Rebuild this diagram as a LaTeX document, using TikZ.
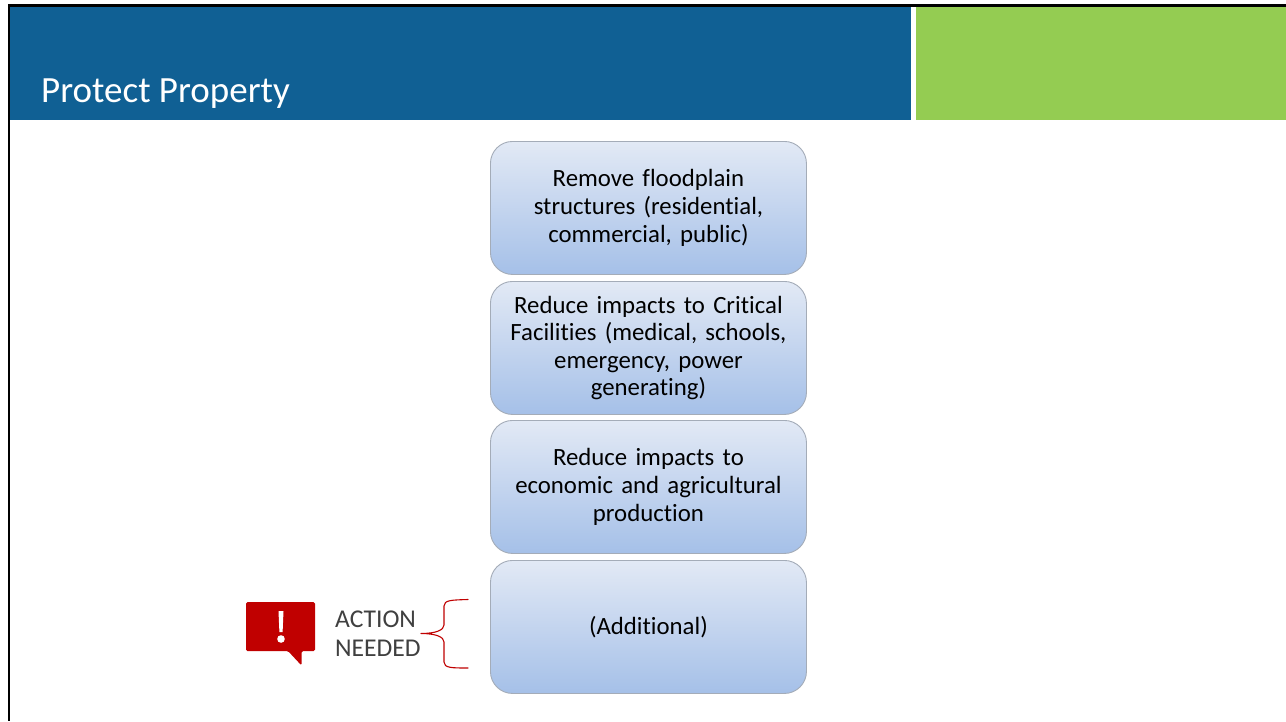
\documentclass[tikz,border=0pt]{standalone}
\usepackage{fontspec}
\setmainfont[Ligatures=NoCommon]{Carlito}
\usetikzlibrary{shadings}
\definecolor{bandblue}{HTML}{106094}
\definecolor{bandgreen}{HTML}{94CC52}
\definecolor{boxtop}{HTML}{E2E9F5}
\definecolor{boxbot}{HTML}{A5C0E8}
\definecolor{boxline}{HTML}{A4ACB8}
\definecolor{alertred}{HTML}{C00000}
\definecolor{labelgray}{HTML}{404040}
\tikzset{
  flowbox/.style={draw=boxline,line width=0.9pt,rounded corners=22pt,minimum width=316pt,minimum height=133pt,
    text width=300pt,align=center,top color=boxtop,bottom color=boxbot,anchor=north west,
    font=\fontsize{24.8}{27.6}\selectfont,text=black,inner sep=0pt},
  notelabel/.style={anchor=west,inner sep=0pt,align=left,text=labelgray,font=\fontsize{25.6}{29.5}\selectfont},
  bracket/.style={draw=alertred,line width=1.1pt,line cap=round}
}
\begin{document}
\begin{tikzpicture}[x=1pt,y=-1pt]
\useasboundingbox (0,0) rectangle (1286,721);
\fill[white] (0,0) rectangle (1286,721);
% header bands
\fill[bandblue] (9,5) rectangle (911,120);
\fill[bandgreen] (916,5) rectangle (1286,120);
\fill[black] (8,4) rectangle (1286,6.8);
\fill[black] (8,4) rectangle (10.3,721);
\node[anchor=base west,inner sep=0pt,text=white,font=\fontsize{37}{40}\selectfont] (title) at (41,102) {Protect Property};
% boxes
\node[flowbox] (b1) at (490,141) {Remove floodplain\\structures (residential,\\commercial, public)};
\node[flowbox] (b2) at (490,281) {Reduce impacts to Critical\\Facilities (medical, schools,\\emergency, power\\generating)};
\node[flowbox] (b3) at (490,420) {Reduce impacts to\\economic and agricultural\\production};
\node[flowbox] (b4) at (490,560) {(Additional)};
% alert icon
\fill[alertred,rounded corners=1.5pt] (246,602) -- (315,602) -- (315,651) -- (301.5,651) -- (301.5,665.5) -- (288,651) -- (246,651) -- cycle;
\fill[white] (278.5,611) -- (283.5,611) -- (282.6,632) -- (279.4,632) -- cycle;
\fill[white] (281,639) circle (3.8);
% label and brace
\node[notelabel] (note) at (335,633.5) {ACTION\\NEEDED};
\coordinate (bracetip) at (note.east);
\coordinate (bracetop) at (468,599.5);
\coordinate (bracebot) at (468,668);
\draw[bracket] (bracetop) .. controls (452,600) and (444,600) .. (444,606)
  -- (444,625) .. controls (444,630) and (436,633.5) .. (bracetip |- 0,633.5)
  (bracebot) .. controls (452,668) and (444,668) .. (444,662)
  -- (444,642) .. controls (444,637) and (436,633.5) .. (bracetip |- 0,633.5);
\end{tikzpicture}
\end{document}
